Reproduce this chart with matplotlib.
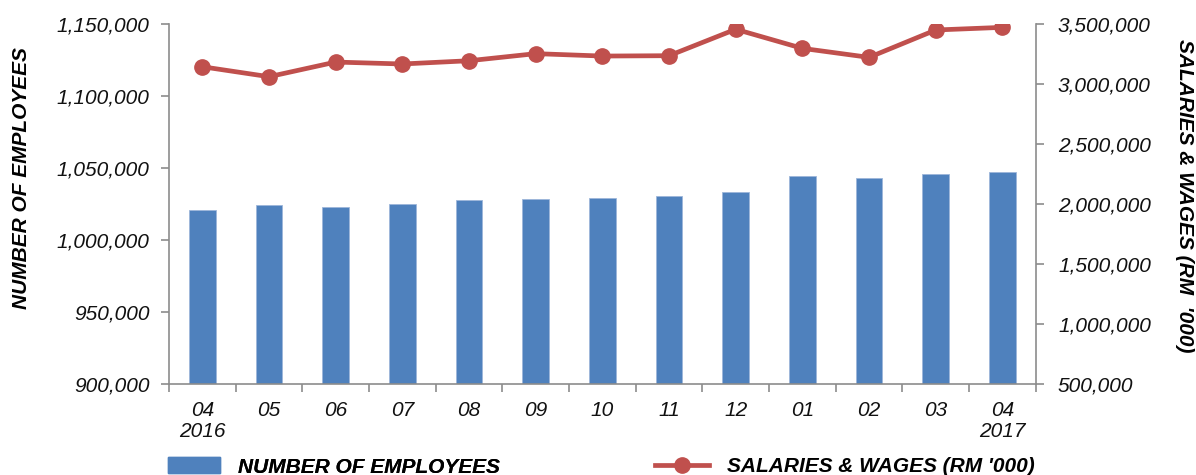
import matplotlib
matplotlib.use("Agg")
import matplotlib.pyplot as plt
from matplotlib.ticker import FuncFormatter, FixedLocator
from matplotlib.lines import Line2D
from matplotlib.patches import Patch
import numpy as np

plt.rcParams['font.family'] = ['Liberation Sans', 'DejaVu Sans']

categories = ["04\n2016", "05", "06", "07", "08", "09", "10", "11", "12", "01", "02", "03", "04\n2017"]
employees = [1021000, 1024700, 1022900, 1025000, 1028000, 1028700, 1029400, 1030800,
             1033100, 1044400, 1043100, 1046000, 1047200]
salaries = [3144000, 3061000, 3183000, 3167000, 3194000, 3253000, 3233000, 3236000,
            3456000, 3297000, 3222000, 3450000, 3472000]

bar_color = "#4F81BD"
line_color = "#C0504D"
spine_color = "#8C8C8C"

fig = plt.figure(figsize=(11.96, 4.75), dpi=100)
ax = fig.add_axes([0.1413, 0.191, 0.7247, 0.7585])
ax2 = ax.twinx()

x = np.arange(len(categories))
ax.bar(x, employees, width=0.4, color=bar_color, edgecolor="#9DB6DA", linewidth=0.6, zorder=2)
ax2.plot(x, salaries, color=line_color, linewidth=3.4, marker='o', markersize=11, zorder=3)

ax.set_xlim(-0.5, len(categories) - 0.5)
ax.set_ylim(900000, 1150000)
ax2.set_ylim(500000, 3500000)
ax.set_yticks(np.arange(900000, 1150001, 50000))
ax2.set_yticks(np.arange(500000, 3500001, 500000))

fmt = FuncFormatter(lambda v, p: f"{int(v):,}")
ax.yaxis.set_major_formatter(fmt)
ax2.yaxis.set_major_formatter(fmt)

ax.set_xticks(x)
ax.set_xticklabels(categories)
ax.xaxis.set_minor_locator(FixedLocator(np.arange(-0.5, len(categories), 1.0)))
ax.tick_params(axis='x', which='major', length=0, pad=12)
ax.tick_params(axis='x', which='minor', length=6, color=spine_color, width=1.2)

for a in (ax, ax2):
    for s in a.spines.values():
        s.set_color(spine_color)
        s.set_linewidth(1.2)
    a.spines['top'].set_visible(False)
ax.spines['right'].set_visible(False)
ax2.spines['left'].set_visible(False)
ax2.spines['bottom'].set_visible(False)

ax.tick_params(axis='y', length=6, color=spine_color, width=1.2, pad=8)
ax2.tick_params(axis='y', length=6, color=spine_color, width=1.2, pad=10)

for lab in ax.get_xticklabels() + ax.get_yticklabels() + ax2.get_yticklabels():
    lab.set_fontsize(15)
    lab.set_fontstyle('italic')
    lab.set_color('#111111')
for lab in ax.get_xticklabels():
    lab.set_linespacing(1.15)

fig.text(0.018, 0.626, "NUMBER OF EMPLOYEES", rotation=90, ha='center', va='center',
         fontsize=15, fontweight='bold', fontstyle='italic')
fig.text(0.990, 0.587, "SALARIES & WAGES (RM  '000)", rotation=-90, ha='center', va='center',
         fontsize=15, fontweight='bold', fontstyle='italic')

legprop = {'size': 15, 'weight': 'bold', 'style': 'italic'}
h1 = Patch(facecolor=bar_color, edgecolor=bar_color)
h2 = Line2D([0], [0], color=line_color, linewidth=3.4, marker='o', markersize=11)
leg1 = fig.legend([h1], ["NUMBER OF EMPLOYEES"], loc='center left',
                  bbox_to_anchor=(0.1405, 0.017), frameon=False, handlelength=2.5,
                  handleheight=0.8, handletextpad=0.87, borderpad=0, borderaxespad=0,
                  prop=legprop)
leg2 = fig.legend([h2], ["SALARIES & WAGES (RM '000)"], loc='center left',
                  bbox_to_anchor=(0.5477, 0.017), frameon=False, handlelength=2.6,
                  handletextpad=0.87, borderpad=0, borderaxespad=0,
                  prop=legprop)
fig.add_artist(leg1)

fig.savefig("out.png", dpi=100)
